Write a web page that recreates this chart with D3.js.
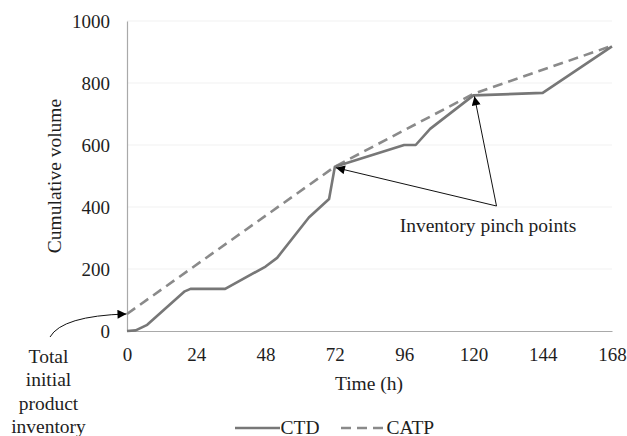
<!DOCTYPE html>
<html>
<head>
<meta charset="utf-8">
<script src="https://cdn.jsdelivr.net/npm/d3@7/dist/d3.min.js"></script>
<style>
  html, body { margin: 0; padding: 0; background: #fff; }
  svg { display: block; }
  text { font-family: "Liberation Serif", "Times New Roman", serif; fill: #1e1e1e; }
</style>
</head>
<body>
<svg id="chart" width="627" height="436"></svg>
<script>
// Cumulative total demand (CTD), hours vs volume
const ctdTime   = [0, 3, 7, 20, 22, 34, 48, 52, 63, 70, 72, 96, 100, 105, 120, 144, 168];
const ctdVolume = [0, 2, 20, 128, 136, 136, 208, 236, 366, 426, 530, 600, 600, 652, 760, 768, 918];

// Cumulative available-to-promise (CATP)
const catpTime   = [0, 72, 120, 168];
const catpVolume = [55, 530, 765, 920];

const xTicks = [0, 24, 48, 72, 96, 120, 144, 168];
const yTicks = [0, 200, 400, 600, 800, 1000];

const pinchTimes = [72, 120];
const seriesNames = ["CTD", "CATP"];

const svg = d3.select("#chart");
const x = d3.scaleLinear().domain([0, 168]).range([127, 612]);
const y = d3.scaleLinear().domain([0, 1000]).range([331, 21]);

const fontSize = 19.5;
const dash = "10,6";

// faint horizontal gridlines
svg.append("g")
  .selectAll("line")
  .data(yTicks.filter(d => d > 0))
  .join("line")
  .attr("x1", x(0)).attr("x2", x(168))
  .attr("y1", d => y(d)).attr("y2", d => y(d))
  .attr("stroke", "#f1f1f1").attr("stroke-width", 1);

// axes
const xAxis = svg.append("g")
  .attr("transform", `translate(0,${y(0)})`)
  .call(d3.axisBottom(x).tickValues(xTicks).tickSize(0).tickPadding(17));
xAxis.select(".domain").attr("stroke", "#a9a9a9").attr("stroke-width", 1.2);
xAxis.selectAll("text")
  .style("font-size", "19px")
  .style("font-family", "Liberation Serif, serif")
  .attr("fill", "#1e1e1e");

const yAxis = svg.append("g")
  .attr("transform", `translate(${x(0)},0)`)
  .call(d3.axisLeft(y).tickValues(yTicks).tickSize(0).tickPadding(17).tickFormat(d3.format("d")));
yAxis.select(".domain").attr("stroke", "#a9a9a9").attr("stroke-width", 1.2);
yAxis.selectAll("text")
  .style("font-size", "19px")
  .style("font-family", "Liberation Serif, serif")
  .attr("fill", "#1e1e1e");

// axis titles
svg.append("text")
  .attr("x", 369).attr("y", 390)
  .attr("text-anchor", "middle")
  .style("font-size", fontSize + "px")
  .text("Time (h)");

svg.append("text")
  .attr("transform", "translate(61,176) rotate(-90)")
  .attr("text-anchor", "middle")
  .style("font-size", fontSize + "px")
  .text("Cumulative volume");

// series lines
const ctdPts = ctdTime.map((t, i) => [t, ctdVolume[i]]);
const catpPts = catpTime.map((t, i) => [t, catpVolume[i]]);
const line = d3.line().x(d => x(d[0])).y(d => y(d[1]));

svg.append("path")
  .datum(catpPts)
  .attr("d", line)
  .attr("fill", "none")
  .attr("stroke", "#8a8a8a")
  .attr("stroke-width", 2.6)
  .attr("stroke-dasharray", dash);

svg.append("path")
  .datum(ctdPts)
  .attr("d", line)
  .attr("fill", "none")
  .attr("stroke", "#777")
  .attr("stroke-width", 2.6)
  .attr("stroke-linejoin", "round");

// arrowhead marker
const defs = svg.append("defs");
defs.append("marker")
  .attr("id", "arrowHead")
  .attr("viewBox", "0 0 10 10")
  .attr("refX", 10).attr("refY", 5)
  .attr("markerWidth", 11).attr("markerHeight", 9)
  .attr("markerUnits", "userSpaceOnUse")
  .attr("orient", "auto")
  .append("path")
  .attr("d", "M0,0 L10,5 L0,10 Z")
  .attr("fill", "#000");

// pinch point annotation
const labelAnchor = [496.5, 206];
pinchTimes.forEach(t => {
  const v = ctdVolume[ctdTime.indexOf(t)];
  svg.append("line")
    .attr("x1", labelAnchor[0]).attr("y1", labelAnchor[1])
    .attr("x2", x(t) + 1).attr("y2", y(v) + 1)
    .attr("stroke", "#111").attr("stroke-width", 1)
    .attr("marker-end", "url(#arrowHead)");
});

svg.append("text")
  .attr("x", 488).attr("y", 232)
  .attr("text-anchor", "middle")
  .style("font-size", fontSize + "px")
  .text("Inventory pinch points");

// initial inventory annotation
const startY = y(catpVolume[0]);
svg.append("path")
  .attr("d", `M50,337 Q62,${startY + 2} ${x(0) - 0.5},${startY}`)
  .attr("fill", "none")
  .attr("stroke", "#111").attr("stroke-width", 1)
  .attr("marker-end", "url(#arrowHead)");

const noteLines = ["Total", "initial", "product", "inventory"];
svg.append("g")
  .selectAll("text")
  .data(noteLines)
  .join("text")
  .attr("x", 48.5)
  .attr("y", (d, i) => 363 + i * 23.4)
  .attr("text-anchor", "middle")
  .style("font-size", fontSize + "px")
  .text(d => d);

// legend
const legend = svg.append("g");
legend.append("line")
  .attr("x1", 235).attr("x2", 280).attr("y1", 428).attr("y2", 428)
  .attr("stroke", "#777").attr("stroke-width", 2.6);
legend.append("text")
  .attr("x", 280.5).attr("y", 433.5)
  .style("font-size", fontSize + "px")
  .text(seriesNames[0]);
legend.append("line")
  .attr("x1", 341).attr("x2", 385).attr("y1", 428).attr("y2", 428)
  .attr("stroke", "#8a8a8a").attr("stroke-width", 2.6)
  .attr("stroke-dasharray", dash);
legend.append("text")
  .attr("x", 386.5).attr("y", 433.5)
  .style("font-size", fontSize + "px")
  .text(seriesNames[1]);
</script>
</body>
</html>
